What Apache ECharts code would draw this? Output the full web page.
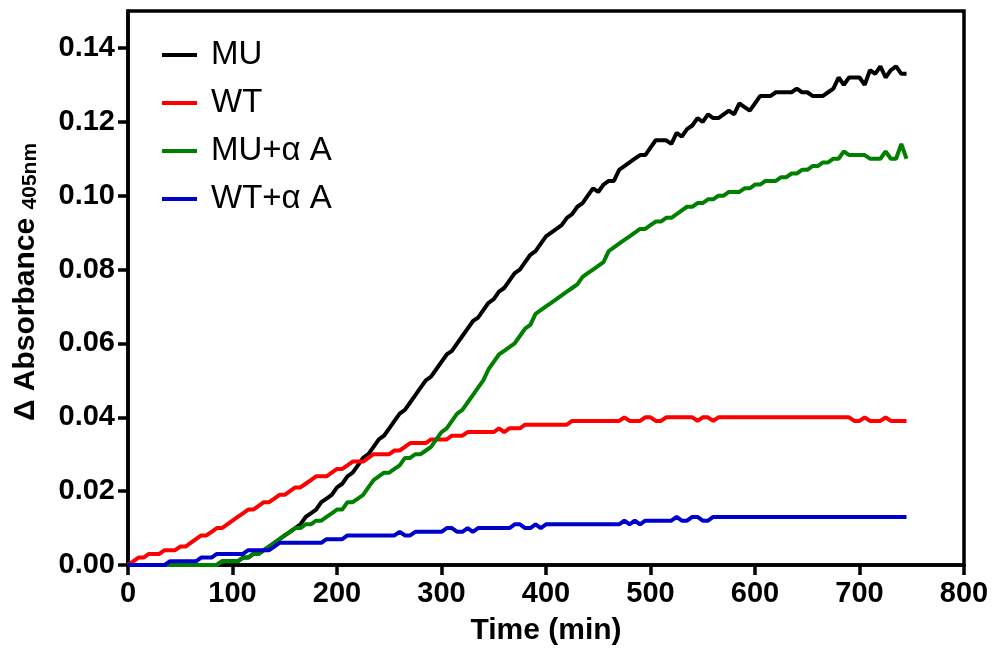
<!DOCTYPE html>
<html>
<head>
<meta charset="utf-8">
<script src="https://cdn.jsdelivr.net/npm/echarts@6/dist/echarts.min.js"></script>
<style>
html,body{margin:0;padding:0;background:#fff;}
#chart{width:992px;height:651px;}
</style>
</head>
<body>
<div id="chart"></div>
<script>
const seriesNames = ['MU', 'WT', 'MU+\u03b1 A', 'WT+\u03b1 A'];
const timeMin = [
  0,5,10,15,20,25,30,35,40,45,
  50,55,60,65,70,75,80,85,90,95,
  100,105,110,115,120,125,130,135,140,145,
  150,155,160,165,170,175,180,185,190,195,
  200,205,210,215,220,225,230,235,240,245,
  250,255,260,265,270,275,280,285,290,295,
  300,305,310,315,320,325,330,335,340,345,
  350,355,360,365,370,375,380,385,390,395,
  400,405,410,415,420,425,430,435,440,445,
  450,455,460,465,470,475,480,485,490,495,
  500,505,510,515,520,525,530,535,540,545,
  550,555,560,565,570,575,580,585,590,595,
  600,605,610,615,620,625,630,635,640,645,
  650,655,660,665,670,675,680,685,690,695,
  700,705,710,715,720,725,730,735,740,745
];
const muValues = [
  0,0,0,0,0,0,0,0,0,0,
  0,0,0,0,0,0,0,0,0.001,0.001,
  0.001,0.001,0.002,0.002,0.003,0.003,0.004,0.005,0.006,0.007,
  0.008,0.009,0.010,0.011,0.013,0.014,0.015,0.017,0.018,0.019,
  0.021,0.022,0.024,0.025,0.027,0.029,0.030,0.032,0.034,0.035,
  0.037,0.039,0.041,0.042,0.044,0.046,0.048,0.050,0.051,0.053,
  0.055,0.057,0.058,0.060,0.062,0.064,0.066,0.067,0.069,0.071,
  0.072,0.074,0.075,0.077,0.079,0.080,0.082,0.084,0.085,0.087,
  0.089,0.090,0.091,0.092,0.094,0.095,0.097,0.098,0.100,0.102,
  0.101,0.103,0.104,0.104,0.107,0.108,0.109,0.110,0.111,0.111,
  0.113,0.115,0.115,0.115,0.114,0.117,0.116,0.118,0.119,0.121,
  0.120,0.122,0.121,0.121,0.122,0.123,0.122,0.125,0.124,0.123,
  0.125,0.127,0.127,0.127,0.128,0.128,0.128,0.128,0.129,0.128,
  0.128,0.127,0.127,0.127,0.128,0.129,0.132,0.130,0.132,0.132,
  0.132,0.130,0.134,0.133,0.135,0.132,0.134,0.135,0.133,0.133
];
const wtValues = [
  0.000,0.001,0.002,0.002,0.003,0.003,0.003,0.004,0.004,0.004,
  0.005,0.005,0.006,0.007,0.008,0.008,0.009,0.010,0.010,0.011,
  0.012,0.013,0.014,0.015,0.015,0.016,0.017,0.017,0.018,0.019,
  0.019,0.020,0.021,0.021,0.022,0.023,0.024,0.024,0.024,0.025,
  0.026,0.026,0.027,0.028,0.028,0.028,0.029,0.030,0.030,0.030,
  0.030,0.031,0.031,0.032,0.033,0.033,0.033,0.033,0.034,0.034,
  0.034,0.034,0.035,0.035,0.035,0.036,0.036,0.036,0.036,0.036,
  0.036,0.037,0.036,0.037,0.037,0.037,0.038,0.038,0.038,0.038,
  0.038,0.038,0.038,0.038,0.038,0.039,0.039,0.039,0.039,0.039,
  0.039,0.039,0.039,0.039,0.039,0.040,0.039,0.039,0.039,0.040,
  0.040,0.039,0.039,0.040,0.040,0.040,0.040,0.040,0.040,0.039,
  0.040,0.040,0.039,0.040,0.040,0.040,0.040,0.040,0.040,0.040,
  0.040,0.040,0.040,0.040,0.040,0.040,0.040,0.040,0.040,0.040,
  0.040,0.040,0.040,0.040,0.040,0.040,0.040,0.040,0.040,0.039,
  0.039,0.040,0.039,0.039,0.039,0.040,0.039,0.039,0.039,0.039
];
const muAValues = [
  0,0,0,0,0,0,0,0,0,0,
  0,0,0,0,0,0,0,0,0.001,0.001,
  0.001,0.001,0.002,0.002,0.003,0.003,0.004,0.005,0.006,0.007,
  0.008,0.009,0.010,0.010,0.011,0.011,0.012,0.012,0.013,0.014,
  0.015,0.015,0.017,0.017,0.018,0.019,0.021,0.023,0.024,0.025,
  0.025,0.026,0.027,0.029,0.029,0.030,0.030,0.031,0.032,0.034,
  0.036,0.037,0.039,0.041,0.042,0.044,0.046,0.048,0.050,0.053,
  0.055,0.057,0.058,0.059,0.060,0.062,0.064,0.065,0.068,0.069,
  0.070,0.071,0.072,0.073,0.074,0.075,0.076,0.078,0.079,0.080,
  0.081,0.082,0.085,0.086,0.087,0.088,0.089,0.090,0.091,0.091,
  0.092,0.093,0.093,0.094,0.094,0.095,0.096,0.097,0.097,0.098,
  0.098,0.099,0.099,0.100,0.100,0.101,0.101,0.101,0.102,0.102,
  0.103,0.103,0.104,0.104,0.104,0.105,0.105,0.106,0.106,0.107,
  0.107,0.108,0.108,0.109,0.109,0.110,0.110,0.112,0.111,0.111,
  0.111,0.111,0.110,0.110,0.110,0.112,0.110,0.110,0.114,0.110
];
const wtAValues = [
  0,0,0,0,0,0,0,0,0.001,0.001,
  0.001,0.001,0.001,0.001,0.002,0.002,0.002,0.003,0.003,0.003,
  0.003,0.003,0.003,0.004,0.004,0.004,0.004,0.004,0.005,0.006,
  0.006,0.006,0.006,0.006,0.006,0.006,0.006,0.006,0.007,0.007,
  0.007,0.007,0.008,0.008,0.008,0.008,0.008,0.008,0.008,0.008,
  0.008,0.008,0.009,0.008,0.008,0.009,0.009,0.009,0.009,0.009,
  0.009,0.010,0.010,0.009,0.009,0.010,0.009,0.010,0.010,0.010,
  0.010,0.010,0.010,0.010,0.011,0.011,0.010,0.010,0.011,0.010,
  0.011,0.011,0.011,0.011,0.011,0.011,0.011,0.011,0.011,0.011,
  0.011,0.011,0.011,0.011,0.011,0.012,0.011,0.012,0.011,0.012,
  0.012,0.012,0.012,0.012,0.012,0.013,0.012,0.012,0.013,0.013,
  0.012,0.012,0.013,0.013,0.013,0.013,0.013,0.013,0.013,0.013,
  0.013,0.013,0.013,0.013,0.013,0.013,0.013,0.013,0.013,0.013,
  0.013,0.013,0.013,0.013,0.013,0.013,0.013,0.013,0.013,0.013,
  0.013,0.013,0.013,0.013,0.013,0.013,0.013,0.013,0.013,0.013
];
const xTicks = [0,100,200,300,400,500,600,700,800];
const yTicks = [0,0.02,0.04,0.06,0.08,0.10,0.12,0.14];
const seriesColors = ['#000000', '#ff0000', '#008000', '#0000cc'];
const seriesValues = [muValues, wtValues, muAValues, wtAValues];

const FONT = '"Liberation Sans", Arial, Helvetica, sans-serif';
const chart = echarts.init(document.getElementById('chart'), null, {renderer: 'canvas'});

const axisCommon = {
  axisLine: {show: true, onZero: false, lineStyle: {color: '#000', width: 3.5}},
  axisTick: {show: true, inside: false, length: 10, lineStyle: {color: '#000', width: 3.5}},
  splitLine: {show: false}
};

chart.setOption({
  animation: false,
  backgroundColor: '#fff',
  grid: {left: 128, right: 28, top: 11, bottom: 86, show: true, borderColor: '#000', borderWidth: 3.5, backgroundColor: 'transparent'},
  legend: {
    data: seriesNames,
    orient: 'vertical',
    left: 157,
    top: 32,
    icon: 'rect',
    itemWidth: 35,
    itemHeight: 4,
    itemGap: 12,
    textStyle: {fontSize: 33, fontFamily: FONT, color: '#000', lineHeight: 36, padding: [0, 0, 0, 9]}
  },
  xAxis: Object.assign({}, axisCommon, {
    type: 'value',
    min: 0, max: 800, interval: 100,
    axisTick: Object.assign({}, axisCommon.axisTick, {customValues: xTicks}),
    axisLabel: {customValues: xTicks, fontSize: 29, fontWeight: 'bold', fontFamily: FONT, color: '#000', margin: 14},
    name: 'Time (min)',
    nameLocation: 'middle',
    nameGap: 51,
    nameTextStyle: {fontSize: 30, fontWeight: 'bold', fontFamily: FONT, color: '#000'}
  }),
  yAxis: Object.assign({}, axisCommon, {
    type: 'value',
    min: 0, max: 0.15, interval: 0.01,
    axisTick: Object.assign({}, axisCommon.axisTick, {customValues: yTicks}),
    axisLabel: {customValues: yTicks, fontSize: 29, fontWeight: 'bold', fontFamily: FONT, color: '#000', margin: 13,
      formatter: v => v.toFixed(2)},
    name: '{m|\u0394 Absorbance }{s|405nm}',
    nameLocation: 'middle',
    nameGap: 87,
    nameTextStyle: {
      fontFamily: FONT, color: '#000', fontWeight: 'bold',
      padding: [0, 0, 0, 12],
      rich: {
        m: {fontSize: 30, fontWeight: 'bold', fontFamily: FONT, color: '#000', lineHeight: 34, verticalAlign: 'bottom'},
        s: {fontSize: 21, fontWeight: 'bold', fontFamily: FONT, color: '#000', lineHeight: 15, verticalAlign: 'bottom'}
      }
    }
  }),
  series: seriesNames.map((name, i) => ({
    name: name,
    type: 'line',
    showSymbol: false,
    symbol: 'none',
    lineStyle: {color: seriesColors[i], width: 4},
    itemStyle: {color: seriesColors[i]},
    data: timeMin.map((t, k) => [t, seriesValues[i][k]])
  }))
});
</script>
</body>
</html>
